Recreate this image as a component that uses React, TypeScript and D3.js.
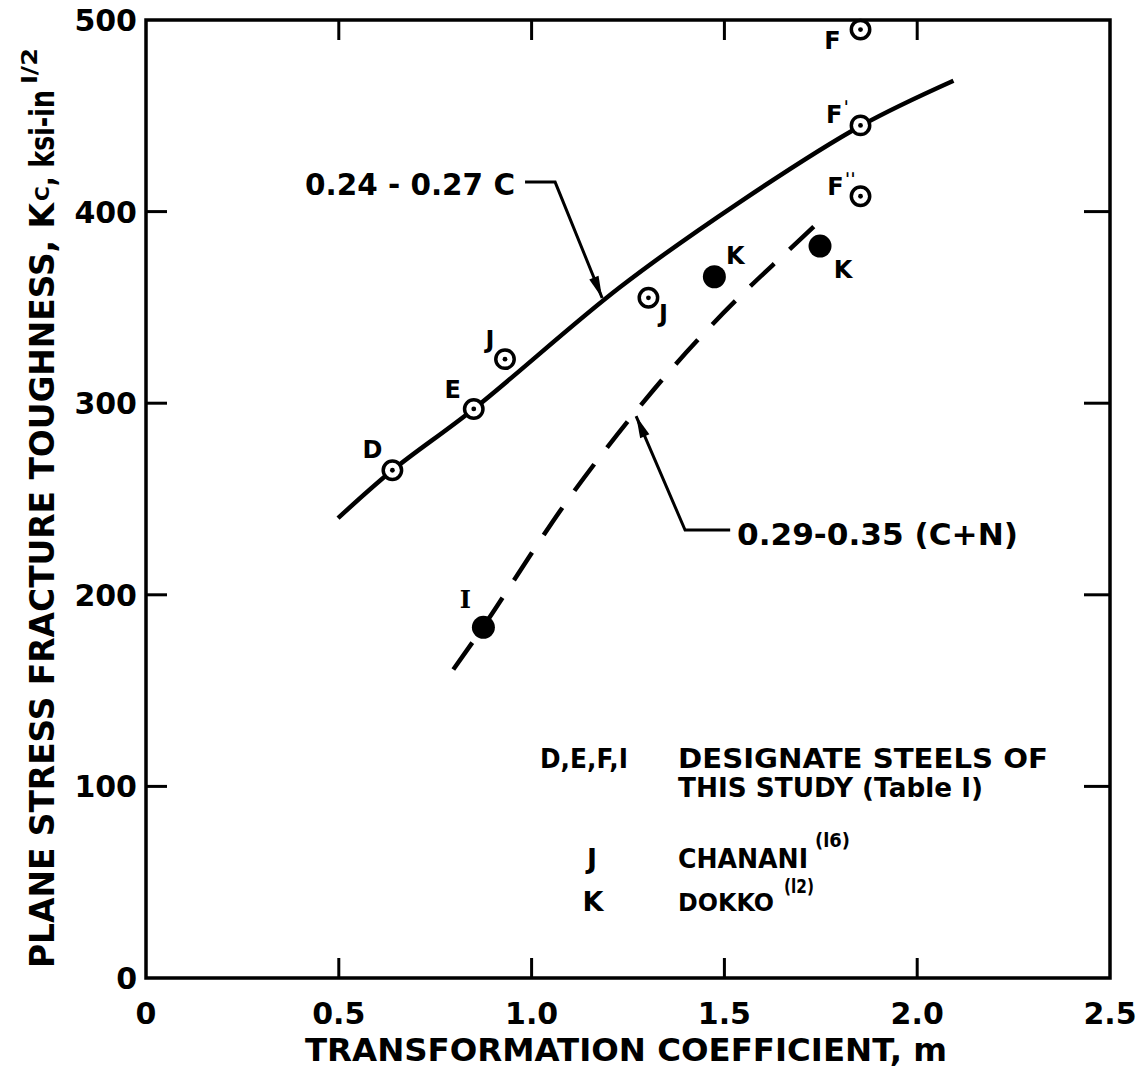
import React from 'react';
import * as d3 from 'd3';

// axis ticks
const mTicks = [0, 0.5, 1.0, 1.5, 2.0, 2.5];
const mTickLabels = ['0', '0.5', '1.0', '1.5', '2.0', '2.5'];
const kTicks = [0, 100, 200, 300, 400, 500];
const kTickLabels = ['0', '100', '200', '300', '400', '500'];

// open symbols (circle with dot)
const openM = [0.639, 0.85, 0.931, 1.303, 1.853, 1.853, 1.853];
const openK = [265, 297, 323, 355, 495, 445, 408];
const openLabels = ['D', 'E', 'J', 'J', 'F', "F'", "F''"];

// filled symbols
const filledM = [0.875, 1.474, 1.748];
const filledK = [183, 366, 382];
const filledLabels = ['I', 'K', 'K'];

// fitted curves
const solidFitM = [0.498, 0.639, 0.85, 1.229, 1.54, 1.853, 2.094];
const solidFitK = [240, 265, 297, 360.5, 405, 444.7, 468.3];
const dashFitM = [0.797, 0.875, 1.1, 1.316, 1.463, 1.562, 1.653, 1.752];
const dashFitK = [161, 183.4, 251.2, 306.9, 339.9, 360, 377.3, 396];

// label offsets in px (styling, not data)
const openOffsets = [[-20, -21], [-21, -19], [-15, -20], [15, 16], [-28, 11], [-23, -11], [-19, -10]];
const filledOffsets = [[-18, -28], [21, -21], [23, 23]];

const FONT = '"DejaVu Sans", Verdana, sans-serif';
const SERIF = '"DejaVu Serif", serif';

function arrowHead(from: [number, number], tip: [number, number], len = 22, half = 5) {
  const dx = tip[0] - from[0];
  const dy = tip[1] - from[1];
  const d = Math.hypot(dx, dy);
  const ux = dx / d, uy = dy / d;
  const bx = tip[0] - ux * len, by = tip[1] - uy * len;
  return `M${tip[0]},${tip[1]}L${bx - uy * half},${by + ux * half}L${bx + uy * half},${by - ux * half}Z`;
}

export default function App() {
  const x = d3.scaleLinear().domain([0, 2.5]).range([146, 1110]);
  const y = d3.scaleLinear().domain([0, 500]).range([978, 20]);

  const line = d3
    .line<[number, number]>()
    .x(d => x(d[0]))
    .y(d => y(d[1]))
    .curve(d3.curveCatmullRom.alpha(0.5));

  const solidPath = line(solidFitM.map((m, i) => [m, solidFitK[i]]) as [number, number][]) || '';
  const dashPath = line(dashFitM.map((m, i) => [m, dashFitK[i]]) as [number, number][]) || '';

  // annotation leaders (data coords)
  const lead1: [number, number][] = [[0.983, 415.4], [1.061, 415.4], [1.183, 354.9]].map(
    d => [x(d[0]), y(d[1])] as [number, number]
  );
  const lead2: [number, number][] = [[1.515, 233.8], [1.398, 233.8], [1.271, 293.3]].map(
    d => [x(d[0]), y(d[1])] as [number, number]
  );

  const innerTicks = mTicks.filter(t => t > 0 && t < 2.5);
  const innerKTicks = kTicks.filter(t => t > 0 && t < 500);

  const renderLabel = (lab: string, px: number, py: number, key: string) => {
    const base = lab[0];
    const rest = lab.slice(1);
    return (
      <text
        key={key}
        x={px}
        y={py + 8.5}
        textAnchor="middle"
        fontFamily={base === 'I' ? SERIF : FONT}
        fontWeight="bold"
        fontSize={24}
      >
        {base}
        {rest && (
          <tspan dx={1} dy={-9} fontSize={18}>
            {rest.replace(/'/g, 'ˈ')}
          </tspan>
        )}
      </text>
    );
  };

  return (
    <div style={{ position: 'absolute', left: 0, top: 0 }}>
      <svg width={1143} height={1079} style={{ display: 'block', background: '#fff' }}>
        <rect x={0} y={0} width={1143} height={1079} fill="#fff" />

        {/* frame */}
        <rect
          x={x(0)}
          y={y(500)}
          width={x(2.5) - x(0)}
          height={y(0) - y(500)}
          fill="none"
          stroke="#000"
          strokeWidth={3.5}
        />

        {/* ticks */}
        {innerTicks.map(t => (
          <g key={'mt' + t}>
            <line x1={x(t)} x2={x(t)} y1={y(0)} y2={y(0) - 20} stroke="#000" strokeWidth={3} />
            <line x1={x(t)} x2={x(t)} y1={y(500)} y2={y(500) + 20} stroke="#000" strokeWidth={3} />
          </g>
        ))}
        {innerKTicks.map(t => (
          <g key={'kt' + t}>
            <line x1={x(0)} x2={x(0) + 21} y1={y(t)} y2={y(t)} stroke="#000" strokeWidth={3} />
            <line x1={x(2.5)} x2={x(2.5) - 26} y1={y(t)} y2={y(t)} stroke="#000" strokeWidth={3} />
          </g>
        ))}

        {/* tick labels */}
        {mTicks.map((t, i) => (
          <text
            key={'ml' + t}
            x={x(t)}
            y={1024}
            textAnchor="middle"
            fontFamily={FONT}
            fontWeight="bold"
            fontSize={30}
          >
            {mTickLabels[i]}
          </text>
        ))}
        {kTicks.map((t, i) => (
          <text
            key={'kl' + t}
            x={137}
            y={y(t) + 11}
            textAnchor="end"
            fontFamily={FONT}
            fontWeight="bold"
            fontSize={30}
          >
            {kTickLabels[i]}
          </text>
        ))}

        {/* axis titles */}
        <text
          x={305}
          y={1061}
          fontFamily={FONT}
          fontWeight="bold"
          fontSize={32}
          textLength={642}
          lengthAdjust="spacingAndGlyphs"
        >
          TRANSFORMATION COEFFICIENT, m
        </text>
        <g transform="translate(54,0) rotate(-90)">
          <text
            x={-968}
            y={0}
            fontFamily={FONT}
            fontWeight="bold"
            fontSize={33}
            textLength={765}
            lengthAdjust="spacingAndGlyphs"
          >
            PLANE STRESS FRACTURE TOUGHNESS, K
          </text>
          <text x={-201} y={-5} fontFamily={FONT} fontWeight="bold" fontSize={20}>
            C
          </text>
          <text
            x={-186}
            y={0}
            fontFamily={FONT}
            fontWeight="bold"
            fontSize={33}
            textLength={96}
            lengthAdjust="spacingAndGlyphs"
          >
            , ksi-in
          </text>
          <text
            x={-84}
            y={-17}
            fontFamily={FONT}
            fontWeight="bold"
            fontSize={22}
            textLength={36}
            lengthAdjust="spacingAndGlyphs"
          >
            l/2
          </text>
        </g>

        {/* fitted curves */}
        <path d={solidPath} fill="none" stroke="#000" strokeWidth={4.5} />
        <path d={dashPath} fill="none" stroke="#000" strokeWidth={4.5} strokeDasharray="33 21" />

        {/* annotation leaders */}
        <polyline
          points={lead1.map(p => p.join(',')).join(' ')}
          fill="none"
          stroke="#000"
          strokeWidth={3}
        />
        <path d={arrowHead(lead1[1], lead1[2])} fill="#000" />
        <polyline
          points={lead2.map(p => p.join(',')).join(' ')}
          fill="none"
          stroke="#000"
          strokeWidth={3}
        />
        <path d={arrowHead(lead2[1], lead2[2])} fill="#000" />

        <text
          x={305}
          y={194.5}
          fontFamily={FONT}
          fontWeight="bold"
          fontSize={31}
          textLength={210}
          lengthAdjust="spacingAndGlyphs"
        >
          0.24 - 0.27 C
        </text>
        <text
          x={737}
          y={544.5}
          fontFamily={FONT}
          fontWeight="bold"
          fontSize={31}
          textLength={281}
          lengthAdjust="spacingAndGlyphs"
        >
          0.29-0.35 (C+N)
        </text>

        {/* open symbols */}
        {openM.map((m, i) => (
          <g key={'o' + i}>
            <circle cx={x(m)} cy={y(openK[i])} r={9.2} fill="#fff" stroke="#000" strokeWidth={3.5} />
            <circle cx={x(m)} cy={y(openK[i])} r={2.4} fill="#000" />
            {renderLabel(openLabels[i], x(m) + openOffsets[i][0], y(openK[i]) + openOffsets[i][1], 'ol' + i)}
          </g>
        ))}

        {/* filled symbols */}
        {filledM.map((m, i) => (
          <g key={'f' + i}>
            <circle cx={x(m)} cy={y(filledK[i])} r={11.5} fill="#000" />
            {renderLabel(filledLabels[i], x(m) + filledOffsets[i][0], y(filledK[i]) + filledOffsets[i][1], 'fl' + i)}
          </g>
        ))}

        {/* legend */}
        <g fontFamily={FONT} fontWeight="bold" fontSize={27}>
          <text x={540} y={768} fontSize={26} textLength={88} lengthAdjust="spacingAndGlyphs">
            D,E,F,I
          </text>
          <text x={678} y={768} textLength={370} lengthAdjust="spacingAndGlyphs">
            DESIGNATE STEELS OF
          </text>
          <text x={678} y={797} textLength={305} lengthAdjust="spacingAndGlyphs">
            THIS STUDY (Table I)
          </text>
          <text x={592} y={868} textAnchor="middle">
            J
          </text>
          <text x={678} y={868} textLength={130} lengthAdjust="spacingAndGlyphs">
            CHANANI
          </text>
          <text x={815} y={847} fontSize={19} textLength={35} lengthAdjust="spacingAndGlyphs">
            (l6)
          </text>
          <text x={593} y={911} textAnchor="middle">
            K
          </text>
          <text x={678} y={911} fontSize={25} textLength={96} lengthAdjust="spacingAndGlyphs">
            DOKKO
          </text>
          <text x={784} y={893} fontSize={19} textLength={30} lengthAdjust="spacingAndGlyphs">
            (l2)
          </text>
        </g>
      </svg>
    </div>
  );
}
